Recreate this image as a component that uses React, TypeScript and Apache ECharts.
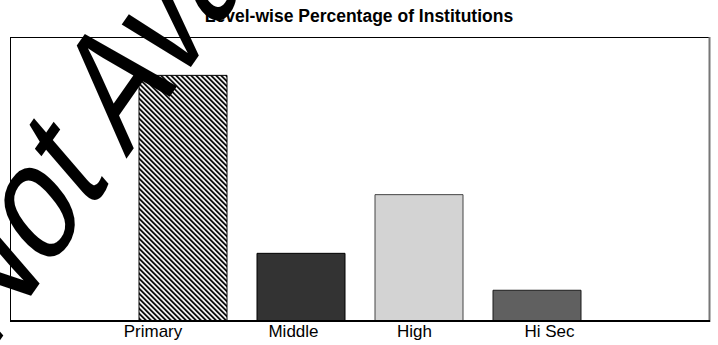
import React, { useEffect, useRef } from "react";
import * as echarts from "echarts";

const categories = ["Primary", "Middle", "High", "Hi Sec"];
const values = [52.0, 14.4, 26.8, 6.6];
const titleText = "Level-wise Percentage of Institutions";
const watermarkText = "Not Available";

// styling (not data)
const fills = ["pattern", "#333333", "#d3d3d3", "#606060"];
const borders = ["#000000", "#000000", "#444444", "#1a1a1a"];
const labelShift = [-30, -7.5, -4.5, 12.5];

const FONT = "'Liberation Sans', Arial, Helvetica, sans-serif";

function makePattern(): HTMLCanvasElement {
  const c = document.createElement("canvas");
  const n = 5;
  c.width = n;
  c.height = n;
  const ctx = c.getContext("2d")!;
  const img = ctx.createImageData(n, n);
  const shades = [20, 20, 150, 255, 190];
  for (let y = 0; y < n; y++) {
    for (let x = 0; x < n; x++) {
      const k = (((x - y) % n) + n) % n;
      const v = shades[k];
      const i = (y * n + x) * 4;
      img.data[i] = v;
      img.data[i + 1] = v;
      img.data[i + 2] = v;
      img.data[i + 3] = 255;
    }
  }
  ctx.putImageData(img, 0, 0);
  return c;
}

export default function App() {
  const ref = useRef<HTMLDivElement>(null);
  useEffect(() => {
    if (!ref.current) return;
    const chart = echarts.init(ref.current, null, { renderer: "svg" });
    const pattern = makePattern();
    const rich: Record<string, any> = {};
    labelShift.forEach((s, i) => {
      rich["l" + i] = {
        fontSize: 17,
        fontFamily: FONT,
        color: "#000",
        padding: s < 0 ? [0, -2 * s, 0, 0] : [0, 0, 0, 2 * s],
      };
    });
    chart.setOption({
      animation: false,
      backgroundColor: "#ffffff",
      title: {
        text: titleText,
        left: "center",
        top: 2,
        padding: [5, 5],
        textStyle: { fontSize: 17.5, fontWeight: "bold", fontFamily: FONT, color: "#000" },
      },
      grid: { left: 124, right: 122, top: 37, bottom: 24, containLabel: false },
      xAxis: {
        type: "category",
        data: categories,
        axisLine: { show: false },
        axisTick: { show: false },
        axisLabel: {
          interval: 0,
          margin: 2,
          formatter: (v: string) => `{l${categories.indexOf(v)}|${v}}`,
          rich,
        },
      },
      yAxis: { type: "value", min: 0, max: 60, show: false },
      series: [
        {
          type: "bar",
          barWidth: 89,
          data: values.map((v, i) => ({
            value: v,
            itemStyle: {
              color: fills[i] === "pattern" ? { image: pattern, repeat: "repeat" } : fills[i],
              borderColor: borders[i],
              borderWidth: 1,
            },
          })),
        },
      ],
      graphic: [
        { type: "line", z: 50, shape: { x1: 10, y1: 37.5, x2: 710, y2: 37.5 }, style: { stroke: "#000", lineWidth: 1 } },
        { type: "line", z: 50, shape: { x1: 10.5, y1: 37, x2: 10.5, y2: 321 }, style: { stroke: "#000", lineWidth: 1 } },
        { type: "line", z: 50, shape: { x1: 709.5, y1: 37, x2: 709.5, y2: 322 }, style: { stroke: "#777", lineWidth: 2 } },
        { type: "line", z: 50, shape: { x1: 10, y1: 321, x2: 710, y2: 321 }, style: { stroke: "#000", lineWidth: 2 } },
        {
          type: "group",
          z: 100,
          x: -45,
          y: 312,
          scaleY: 1.29,
          children: [
            {
              type: "text",
              z: 100,
              x: 0,
              y: 0,
              scaleX: 0.82,
              rotation: (48 * Math.PI) / 180,
              style: {
                text: watermarkText,
                fontSize: 139,
                fontFamily: FONT,
                fill: "#000",
                align: "left",
                verticalAlign: "middle",
                textAlign: "left",
                textVerticalAlign: "middle",
              },
            },
          ],
        },
      ],
    });
    return () => chart.dispose();
  }, []);
  return (
    <div
      ref={ref}
      style={{ position: "fixed", left: 0, top: 0, width: 718, height: 345, background: "#fff" }}
    />
  );
}
